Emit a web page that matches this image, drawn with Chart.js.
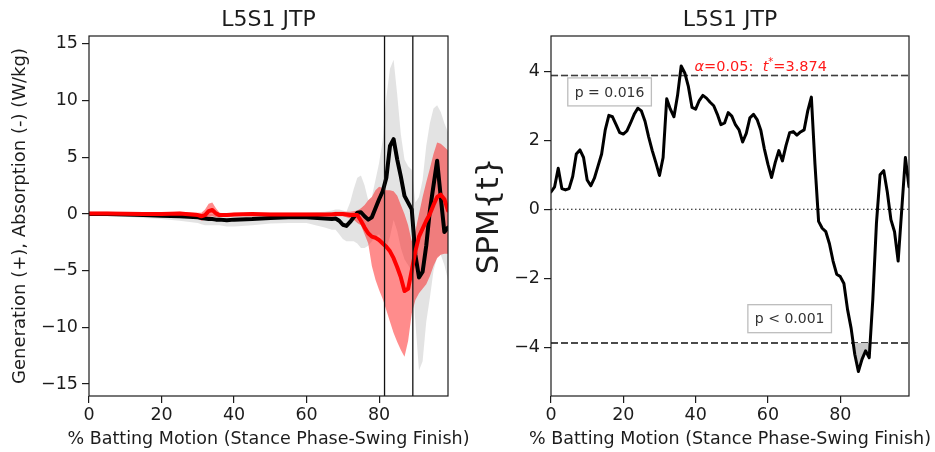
<!DOCTYPE html>
<html>
<head>
<meta charset="utf-8">
<script src="https://cdn.jsdelivr.net/npm/chart.js@4.4.1/dist/chart.umd.min.js"></script>
<style>
  html, body { margin: 0; padding: 0; background: #fff; }
  #wrap { position: relative; width: 935px; height: 452px; }
  canvas { position: absolute; top: 0; }
  #jtp { left: 0; }
  #spm { left: 467px; }
</style>
</head>
<body>
<div id="wrap">
  <canvas id="jtp" width="474" height="452"></canvas>
  <canvas id="spm" width="468" height="452"></canvas>
</div>
<script>
// ---- data: left panel (joint power, mean +/- SD) ----
const pctX = [0, 5, 10, 15, 20, 25, 30, 31, 32, 33, 34, 35, 36, 38, 40, 45, 50, 55, 60, 65, 67, 68, 69,
  70, 71, 72, 73, 74, 75, 76, 77, 78, 79, 80, 81, 82, 83, 84, 85, 86, 87, 88, 89,
  90, 91, 92, 93, 94, 95, 96, 97, 98, 99]

const blackMean = [0, 0, -0.05, -0.1, -0.15, -0.2, -0.3, -0.35, -0.4, -0.45, -0.45, -0.5, -0.5, -0.55, -0.5, -0.45, -0.35, -0.3, -0.3, -0.4, -0.45, -0.4, -0.6,
  -0.95, -1.05, -0.7, -0.3, 0.1, 0.15, -0.2, -0.5, -0.3, 0.5, 1.3, 2.0, 3.2, 6.0, 6.6, 4.8, 3.3, 1.6, 1.0, 0.4,
  -3.6, -5.6, -5.1, -2.8, 0.3, 2.5, 4.7, 1.5, -1.6, -1.2]
const blackUpper = [0.15, 0.15, 0.1, 0.1, 0.05, 0.05, 0, 0, 0, 0, 0, 0, 0, 0, 0.05, 0.1, 0.1, 0.1, 0.1, 0.2, 0.3, 0.4, 0.4,
  0.3, 0.2, 1.0, 2.2, 3.2, 3.4, 2.5, 1.2, 1.5, 3.0, 4.5, 6.5, 10.3, 12.8, 13.6, 10.5, 7.0, 4.8, 4.2, 3.9,
  1.0, 1.5, 3.0, 6.0, 8.0, 9.3, 9.6, 9.0, 8.0, 7.2]
const blackLower = [-0.15, -0.2, -0.25, -0.35, -0.45, -0.6, -0.8, -0.9, -1.0, -1.0, -1.0, -1.0, -1.0, -1.1, -1.1, -1.0, -0.85, -0.8, -0.8, -1.2, -1.4, -1.4, -1.8,
  -2.2, -2.4, -2.4, -2.4, -2.6, -3.0, -3.0, -2.8, -2.4, -2.0, -1.8, -2.5, -3.0, -2.0, -0.5, -1.5, -3.0, -4.0, -4.5, -5.0,
  -9.5, -13.8, -13.0, -9.5, -7.4, -5.0, -3.8, -3.6, -4.5, -5.8]

const redMean = [0.05, 0.05, 0.02, 0, 0, 0.05, -0.1, -0.2, -0.1, 0.25, 0.35, 0.05, -0.1, -0.1, -0.05, 0, -0.05, -0.05, -0.05, -0.05, -0.05, 0, 0,
  0, -0.05, -0.1, -0.1, -0.1, -0.6, -1.2, -1.7, -2.0, -2.1, -2.3, -2.6, -2.9, -3.3, -3.9, -4.7, -5.6, -6.8, -6.6, -5.0,
  -3.3, -2.0, -1.3, -0.6, 0.0, 0.8, 1.5, 1.7, 1.3, 0.3]
const redUpper = [0.2, 0.2, 0.15, 0.12, 0.12, 0.2, 0.1, 0.1, 0.4, 0.9, 1.0, 0.5, 0.1, 0.05, 0.1, 0.1, 0.1, 0.1, 0.1, 0.1, 0.15, 0.2, 0.2,
  0.2, 0.2, 0.2, 0.25, 0.3, 0.5, 0.8, 1.2, 1.5, 2.1, 2.4, 2.3, 2.1, 2.1, 2.0, 1.6, 0.8, 0.0, -1.0, -2.4,
  -1.5, 0.0, 1.5, 2.8, 4.0, 5.3, 6.3, 6.2, 5.9, 5.6]
const redLower = [-0.1, -0.1, -0.1, -0.12, -0.12, -0.1, -0.4, -0.6, -0.5, -0.3, -0.2, -0.3, -0.3, -0.25, -0.2, -0.15, -0.2, -0.2, -0.2, -0.2, -0.2, -0.2, -0.2,
  -0.2, -0.3, -0.4, -0.5, -0.8, -1.0, -1.8, -2.6, -4.6, -5.8, -6.7, -7.5, -8.5, -9.5, -10.5, -11.3, -12.0, -12.6, -11.2, -8.8,
  -7.6, -7.0, -6.6, -6.2, -5.5, -4.6, -3.9, -3.6, -3.5, -3.5]

const markerLines = [81.5, 89.3]

// ---- data: right panel (SPM{t}) ----
const spmT = [0.5, 0.65, 1.19, 0.6, 0.56, 0.6, 0.95, 1.6, 1.72, 1.5,
  0.85, 0.68, 0.9, 1.25, 1.6, 2.3, 2.72, 2.68, 2.45, 2.22,
  2.18, 2.27, 2.5, 2.75, 2.93, 2.85, 2.55, 2.1, 1.7, 1.35,
  0.98, 1.5, 3.2, 2.9, 2.68, 3.3, 4.15, 3.95, 3.55, 2.95,
  2.9, 3.15, 3.3, 3.22, 3.1, 3.0, 2.75, 2.45, 2.5, 2.8,
  2.7, 2.45, 2.3, 1.95, 2.2, 2.65, 2.75, 2.6, 2.3, 1.75,
  1.3, 0.92, 1.35, 1.7, 1.4, 1.85, 2.22, 2.25, 2.15, 2.24,
  2.3, 2.85, 3.25, 1.3, -0.35, -0.55, -0.65, -1.0, -1.5, -1.88,
  -1.95, -2.15, -2.9, -3.45, -4.2, -4.7, -4.35, -4.1, -4.3, -2.6,
  -0.4, 1.0, 1.12, 0.5, -0.3, -0.65, -1.5, 0.0, 1.5, 0.65]
const tCritical = 3.874
const clusterP = ["p = 0.016", "p < 0.001"]

const xTicks = [0, 20, 40, 60, 80]
const jtpTicks = [-15, -10, -5, 0, 5, 10, 15]
const spmTicks = [-4, -2, 0, 2, 4]
const xRange = [0, 99]
const jtpRange = [-16.06, 15.7]
const spmRange = [-5.41, 5.02]
const xLabel = "% Batting Motion (Stance Phase-Swing Finish)"

// ---- helpers ----
const FONT = "DejaVu Sans"
const INK = "#1c1c1c"
const TICK_FONT = { family: FONT, size: 17.5 }
const pts = (xs, ys) => xs.map((x, i) => ({ x: x, y: ys[i] }))
const spmX = spmT.map((_, i) => i)
const fmt = v => (v < 0 ? "\u2212" + Math.abs(v) : String(v))

function flat(y) {
  return [{ x: xRange[0], y: y }, { x: xRange[1], y: y }]
}

function xAxis() {
  return {
    type: "linear", min: xRange[0], max: xRange[1],
    afterBuildTicks: ax => { ax.ticks = xTicks.map(v => ({ value: v })) },
    afterFit: ax => { ax.height = 56 },
    grid: { drawOnChartArea: false, tickLength: 7, color: INK, lineWidth: 1.2 },
    border: { display: false },
    ticks: { autoSkip: false, maxRotation: 0, padding: 2, color: INK, font: TICK_FONT, callback: fmt },
    title: { display: false }
  }
}

function yAxis(range, ticks, width, title, titleSize, titlePad) {
  return {
    type: "linear", min: range[0], max: range[1],
    afterBuildTicks: ax => { ax.ticks = ticks.map(v => ({ value: v })) },
    afterFit: ax => { ax.width = width },
    grid: { drawOnChartArea: false, tickLength: 7, color: INK, lineWidth: 1.2 },
    border: { display: false },
    ticks: { autoSkip: false, padding: 4, color: INK, font: TICK_FONT, callback: fmt },
    title: { display: true, text: title, color: INK, font: { family: FONT, size: titleSize }, padding: { top: titlePad, bottom: 0 } }
  }
}

const framePlugin = {
  id: "frame",
  afterDatasetsDraw(chart) {
    const { ctx, chartArea: a } = chart
    ctx.save()
    ctx.strokeStyle = INK
    ctx.lineWidth = 1.2
    ctx.strokeRect(a.left, a.top, a.right - a.left, a.bottom - a.top)
    ctx.restore()
  }
}

// panel title above the plot and x label below it (drawn without width squeeze)
const titlePlugin = {
  id: "panelTitle",
  afterDraw(chart, args, opts) {
    const { ctx, chartArea: a } = chart
    const cx = (a.left + a.right) / 2
    ctx.save()
    ctx.fillStyle = INK
    ctx.textAlign = "center"
    ctx.textBaseline = "alphabetic"
    ctx.font = "22px \"" + FONT + "\""
    ctx.fillText(opts.text, cx, a.top - 10)
    ctx.textBaseline = "middle"
    ctx.font = "17.5px \"" + FONT + "\""
    ctx.fillText(xLabel, cx, chart.height - 13)
    ctx.restore()
  }
}

const line = (data, color, width, order, extra) => Object.assign({
  data: data, borderColor: color, borderWidth: width, pointRadius: 0, fill: false,
  borderJoinStyle: "round", borderCapStyle: "round", tension: 0, order: order, clip: 0
}, extra || {})

const band = (upper, lower, color, order) => [
  line(pts(pctX, upper), "rgba(0,0,0,0)", 0, order, { fill: "+1", backgroundColor: color }),
  line(pts(pctX, lower), "rgba(0,0,0,0)", 0, order)
]

const common = {
  responsive: false,
  animation: false,
  events: [],
  plugins: { legend: { display: false }, tooltip: { enabled: false } }
}

// ---- left: joint power ----
new Chart(document.getElementById("jtp"), {
  type: "line",
  data: {
    datasets: [
      ...band(blackUpper, blackLower, "rgba(200,200,200,0.5)", 8),
      ...band(redUpper, redLower, "rgba(255,0,0,0.45)", 7),
      line(pts(pctX, blackMean), "#000", 4, 4),
      line(pts(pctX, redMean), "#ff0000", 4, 3),
      ...markerLines.map(m => line([{ x: m, y: jtpRange[0] }, { x: m, y: jtpRange[1] }], "#111", 1.3, 1))
    ]
  },
  options: Object.assign({}, common, {
    layout: { padding: { left: 0, right: 26, top: 36, bottom: 0 } },
    scales: {
      x: xAxis(),
      y: yAxis(jtpRange, jtpTicks, 89, "Generation (+), Absorption (-) (W/kg)", 18, 9.2)
    },
    plugins: Object.assign({}, common.plugins, { panelTitle: { text: "L5S1 JTP" } })
  }),
  plugins: [framePlugin, titlePlugin]
})

// ---- right: SPM{t} ----
const spmNotes = {
  id: "spmNotes",
  afterDatasetsDraw(chart, args, opts) {
    const { ctx, scales: { x, y } } = chart
    ctx.save()
    // critical threshold label
    let px = x.getPixelForValue(opts.threshX)
    const py = y.getPixelForValue(tCritical) - 5
    ctx.fillStyle = "#ff1a1a"
    ctx.textAlign = "left"
    ctx.textBaseline = "alphabetic"
    const parts = [
      ["italic 14.5px \"" + FONT + "\"", "\u03b1", 0],
      ["14.5px \"" + FONT + "\"", "=0.05:  ", 0],
      ["italic 14.5px \"" + FONT + "\"", "t", 0],
      ["10px \"" + FONT + "\"", "*", -6],
      ["14.5px \"" + FONT + "\"", "=3.874", 0]
    ]
    parts.forEach(([font, txt, dy]) => {
      ctx.font = font
      ctx.fillText(txt, px, py + dy)
      px += ctx.measureText(txt).width
    })
    // cluster p-values
    ctx.font = "14px \"" + FONT + "\""
    ctx.textAlign = "center"
    ctx.textBaseline = "middle"
    clusterP.forEach((label, i) => {
      const pos = opts.boxes[i]
      const cx = x.getPixelForValue(pos.x)
      const cy = y.getPixelForValue(pos.y)
      const w = ctx.measureText(label).width + 14
      const h = 28
      ctx.fillStyle = "#fff"
      ctx.fillRect(cx - w / 2, cy - h / 2, w, h)
      ctx.strokeStyle = "#bdbdbd"
      ctx.lineWidth = 1.3
      ctx.strokeRect(cx - w / 2, cy - h / 2, w, h)
      ctx.fillStyle = "#333"
      ctx.fillText(label, cx, cy + 1)
    })
    ctx.restore()
  }
}

new Chart(document.getElementById("spm"), {
  type: "line",
  data: {
    datasets: [
      line(pts(spmX, spmT), "#000", 3, 2, {
        fill: { target: { value: -tCritical }, above: "rgba(0,0,0,0)", below: "#c8c8c8" }
      }),
      line(pts(spmX, spmT), "rgba(0,0,0,0)", 0, 3, {
        fill: { target: { value: tCritical }, above: "#c8c8c8", below: "rgba(0,0,0,0)" }
      }),
      line(flat(tCritical), "#111", 1.5, 4, { borderDash: [7, 3], borderCapStyle: "butt" }),
      line(flat(-tCritical), "#111", 1.5, 4, { borderDash: [7, 3], borderCapStyle: "butt" }),
      line(flat(0), "#111", 1.2, 5, { borderDash: [1.5, 2.5], borderCapStyle: "butt" })
    ]
  },
  options: Object.assign({}, common, {
    layout: { padding: { left: 0, right: 26, top: 36, bottom: 0 } },
    scales: {
      x: xAxis(),
      y: yAxis(spmRange, spmTicks, 84, "SPM{t}", 31, 4.4)
    },
    plugins: Object.assign({}, common.plugins, {
      panelTitle: { text: "L5S1 JTP" },
      spmNotes: { threshX: 39.7, boxes: [{ x: 16.2, y: 3.4 }, { x: 66.0, y: -3.17 }] }
    })
  }),
  plugins: [framePlugin, titlePlugin, spmNotes]
})
</script>
</body>
</html>
